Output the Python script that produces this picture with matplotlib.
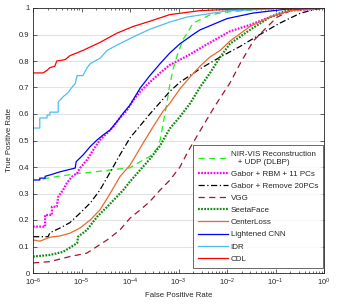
import numpy as np
import matplotlib
matplotlib.use("Agg")
import matplotlib.pyplot as plt
from matplotlib.ticker import LogLocator, NullFormatter

plt.rcParams["font.family"] = ["Liberation Sans", "DejaVu Sans"]

# log10(FPR) / TPR pairs
nirvis_lfpr = [-5.79, -5.44, -5.03, -4.62, -4.21, -4.00, -3.79, -3.59, -3.44, -3.38, -3.32,
               -3.24, -3.18, -3.11, -3.03, -2.91, -2.82, -2.70, -2.35, -2.00, -1.32, 0.0]
nirvis_tpr = [0.355, 0.366, 0.376, 0.384, 0.393, 0.397, 0.42, 0.44, 0.47, 0.50, 0.56,
              0.64, 0.71, 0.77, 0.82, 0.88, 0.905, 0.943, 0.974, 0.985, 0.995, 1.0]

rbm_lfpr = [-6.00, -5.75, -5.75, -5.61, -5.61, -5.51, -5.48, -5.38, -5.30, -5.20, -5.09, -5.03,
            -4.89, -4.76, -4.62, -4.47, -4.35, -4.21, -4.06, -3.94, -3.79, -3.59, -3.38, -3.18,
            -2.76, -2.49, -1.94, -1.53, -1.11, -0.70, 0.0]
rbm_tpr = [0.175, 0.175, 0.219, 0.219, 0.25, 0.25, 0.288, 0.313, 0.34, 0.363, 0.377, 0.396,
           0.426, 0.464, 0.502, 0.528, 0.551, 0.585, 0.615, 0.65, 0.685, 0.72, 0.755, 0.785,
           0.825, 0.855, 0.912, 0.936, 0.966, 0.99, 1.0]

rm20_lfpr = [-6.00, -5.69, -5.65, -5.44, -5.24, -5.03, -4.82, -4.62, -4.41, -4.21, -4.00,
             -3.59, -3.18, -2.97, -2.56, -2.14, -1.73, -1.32, -0.91, -0.49, -0.19, 0.0]
rm20_tpr = [0.137, 0.137, 0.152, 0.17, 0.19, 0.226, 0.264, 0.313, 0.38, 0.445, 0.51,
            0.60, 0.685, 0.72, 0.77, 0.815, 0.855, 0.90, 0.943, 0.98, 0.995, 1.0]

vgg_lfpr = [-6.00, -5.65, -5.24, -4.89, -4.68, -4.47, -4.21, -4.00, -3.79, -3.59, -3.38, -3.18,
            -2.97, -2.80, -2.56, -2.25, -1.94, -1.73, -1.46, -1.22, -0.97, -0.64, 0.0]
vgg_tpr = [0.038, 0.043, 0.062, 0.075, 0.1, 0.125, 0.162, 0.207, 0.238, 0.27, 0.313, 0.35,
           0.40, 0.46, 0.535, 0.63, 0.717, 0.79, 0.875, 0.92, 0.965, 0.995, 1.0]

seeta_lfpr = [-6.00, -5.65, -5.38, -5.20, -5.09, -5.07, -4.89, -4.68, -4.47, -4.27, -4.14, -4.00,
              -3.79, -3.59, -3.38, -3.18, -2.97, -2.76, -2.56, -2.35, -2.14, -1.94, -1.53,
              -1.11, -0.70, 0.0]
seeta_tpr = [0.062, 0.068, 0.08, 0.1, 0.113, 0.137, 0.162, 0.212, 0.25, 0.288, 0.313, 0.345,
             0.389, 0.43, 0.48, 0.545, 0.59, 0.64, 0.70, 0.755, 0.815, 0.865, 0.917,
             0.966, 0.995, 1.0]

center_lfpr = [-6.00, -5.86, -5.65, -5.44, -5.24, -5.03, -4.82, -4.62, -4.41, -4.21, -4.00,
               -3.73, -3.53, -3.32, -3.18, -2.97, -2.76, -2.56, -2.35, -2.14, -1.94, -1.53,
               -1.11, -0.70, 0.0]
center_tpr = [0.125, 0.12, 0.135, 0.14, 0.15, 0.17, 0.2, 0.238, 0.30, 0.363, 0.407,
              0.49, 0.55, 0.61, 0.64, 0.695, 0.74, 0.78, 0.815, 0.84, 0.875, 0.93,
              0.966, 0.99, 1.0]

lcnn_lfpr = [-6.00, -5.86, -5.86, -5.75, -5.75, -5.65, -5.44, -5.13, -5.11, -4.97, -4.82, -4.68,
             -4.56, -4.41, -4.27, -4.14, -4.00, -3.79, -3.59, -3.38, -3.18, -2.97, -2.70,
             -2.56, -2.00, -1.46, -0.76, 0.0]
lcnn_tpr = [0.351, 0.351, 0.358, 0.358, 0.365, 0.37, 0.382, 0.396, 0.42, 0.445, 0.477, 0.502,
            0.52, 0.54, 0.571, 0.603, 0.634, 0.698, 0.745, 0.79, 0.83, 0.865, 0.90,
            0.917, 0.96, 0.981, 0.996, 1.0]

idr_lfpr = [-6.00, -5.86, -5.86, -5.71, -5.71, -5.65, -5.65, -5.48, -5.48, -5.38, -5.28, -5.20,
            -5.13, -5.09, -4.97, -4.89, -4.82, -4.62, -4.47, -4.27, -3.94, -3.59, -3.18,
            -2.82, -2.00, -0.91, 0.0]
idr_tpr = [0.547, 0.547, 0.585, 0.585, 0.596, 0.596, 0.607, 0.607, 0.645, 0.665, 0.68, 0.70,
           0.715, 0.745, 0.745, 0.773, 0.79, 0.81, 0.84, 0.86, 0.89, 0.92, 0.947,
           0.966, 0.989, 0.998, 1.0]

cdl_lfpr = [-6.00, -5.79, -5.71, -5.65, -5.55, -5.51, -5.34, -5.24, -4.97, -4.62, -4.27, -3.94,
            -3.59, -3.18, -2.56, -1.94, -0.91, 0.0]
cdl_tpr = [0.755, 0.755, 0.765, 0.775, 0.78, 0.80, 0.805, 0.82, 0.84, 0.87, 0.905, 0.93,
           0.95, 0.975, 0.99, 0.995, 0.999, 1.0]

series = [
    ("NIR-VIS Reconstruction\n   + UDP (DLBP)", nirvis_lfpr, nirvis_tpr,
     dict(color="#22ee22", ls=(0, (5, 3.5)), lw=0.9)),
    ("Gabor + RBM + 11 PCs", rbm_lfpr, rbm_tpr, dict(color="#ff00ff", ls=(0, (0.8, 0.6)), lw=1.6)),
    ("Gabor + Remove 20PCs", rm20_lfpr, rm20_tpr, dict(color="black", ls=(0, (5, 2, 1, 2)), lw=0.9)),
    ("VGG", vgg_lfpr, vgg_tpr, dict(color="#a2142f", ls=(0, (5, 3.5)), lw=0.9)),
    ("SeetaFace", seeta_lfpr, seeta_tpr, dict(color="#138a13", ls=(0, (0.8, 0.6)), lw=1.6)),
    ("CenterLoss", center_lfpr, center_tpr, dict(color="#e8692e", ls="-", lw=0.9)),
    ("Lightened CNN", lcnn_lfpr, lcnn_tpr, dict(color="#0000ff", ls="-", lw=0.9)),
    ("IDR", idr_lfpr, idr_tpr, dict(color="#4dbeee", ls="-", lw=0.9)),
    ("CDL", cdl_lfpr, cdl_tpr, dict(color="#ff0000", ls="-", lw=0.9)),
]

fig = plt.figure(figsize=(3.39, 3.06), dpi=100)
ax = fig.add_axes([33 / 339, 33 / 306, 291 / 339, 265 / 306])

for label, lfpr, tpr, style in series:
    ax.plot(10 ** np.array(lfpr), tpr, label=label, **style)

ax.set_xscale("log")
ax.set_xlim(1e-6, 1)
ax.set_ylim(0, 1)
ax.set_yticks(np.arange(0, 1.01, 0.1))
ax.set_yticklabels(["0", "0.1", "0.2", "0.3", "0.4", "0.5", "0.6", "0.7", "0.8", "0.9", "1"])
ax.xaxis.set_major_locator(LogLocator(base=10, numticks=10))
ax.xaxis.set_minor_locator(LogLocator(base=10, subs=np.arange(2, 10), numticks=20))
ax.xaxis.set_minor_formatter(NullFormatter())

ax.yaxis.grid(True, color="#e3e3e3", lw=0.8)
ax.set_axisbelow(True)

gray = "#262626"
for s in ax.spines.values():
    s.set_color(gray)
    s.set_linewidth(0.6)
ax.tick_params(which="both", direction="in", top=True, right=True, colors=gray,
               labelsize=5.5, width=0.5)
ax.tick_params(which="major", length=3, pad=2.5)
ax.tick_params(which="minor", length=1.6)

ax.set_xlabel("False Positive Rate", fontsize=5.6, color=gray, labelpad=3)
ax.set_ylabel("True Positive Rate", fontsize=5.6, color=gray, labelpad=4)

leg = ax.legend(loc="lower right", bbox_to_anchor=(0.997, 0.019), borderaxespad=0,
                fontsize=5.8, handlelength=3.7, handletextpad=0.35, labelspacing=0.56,
                borderpad=0.65, frameon=True, fancybox=False)
leg.get_frame().set_edgecolor(gray)
leg.get_frame().set_linewidth(0.6)
for t in leg.get_texts():
    t.set_color(gray)

fig.savefig("out.png", dpi=100)
